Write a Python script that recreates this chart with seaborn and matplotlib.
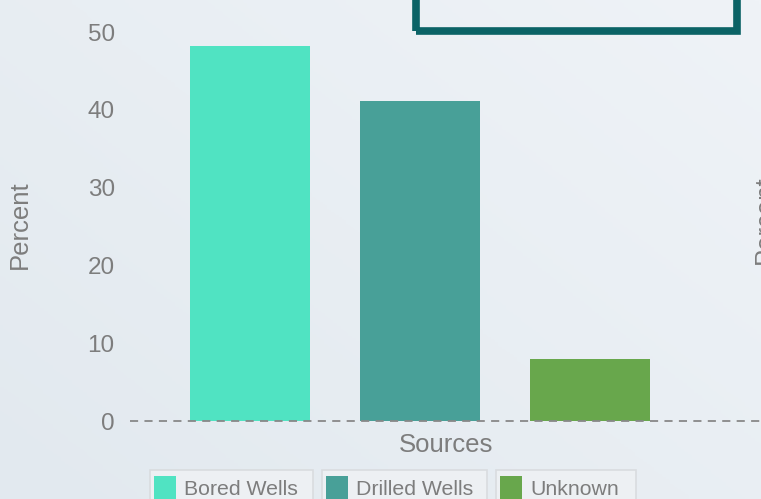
import numpy as np
import pandas as pd
import matplotlib
matplotlib.use('Agg')
import matplotlib.pyplot as plt
import matplotlib.patches as mpatches
import seaborn as sns

sources = ['Bored Wells', 'Drilled Wells', 'Unknown']
percents = [48.2, 41.1, 8.0]
bar_colors = ['#50e3c2', '#48a098', '#68a74c']
y_ticks = [0, 10, 20, 30, 40, 50]

sns.set_style('white')
plt.rcParams['font.family'] = ['Liberation Sans', 'DejaVu Sans']
txt_col = '#7d7d7d'

df = pd.DataFrame({'Source': sources, 'Percent': percents})

W, H = 761, 499
fig = plt.figure(figsize=[W / 100, H / 100], dpi=100)

# soft background gradient
bg = fig.add_axes([0, 0, 1, 1], zorder=-10)
gx, gy = np.meshgrid(np.linspace(0, 1, 200), np.linspace(0, 1, 200))
grad = 0.55 * gx + 0.45 * (1 - gy)
cmap = matplotlib.colors.LinearSegmentedColormap.from_list('bg', ['#e2e9ef', '#eff3f7'])
bg.imshow(grad, cmap=cmap, aspect='auto', extent=[0, 1, 0, 1])
bg.axis('off')

x0 = 130 / W
ax = fig.add_axes([x0, (H - 421) / H, 1 - x0, (421 - 32) / H])
ax.patch.set_alpha(0)
sns.barplot(data=df, x='Source', y='Percent', hue='Source', palette=bar_colors,
            width=0.706, saturation=1, legend=False, ax=ax, zorder=2,
            linewidth=0, edgecolor='none')
ax.set_xlim(-0.706, 3.006)
ax.set_ylim(0, 50)
ax.set_yticks(y_ticks)
ax.set_yticklabels([str(t) for t in y_ticks], fontsize=17.5, color=txt_col)
ax.tick_params(axis='y', length=0, pad=11)
ax.set_xticks([])
ax.set_xlabel('')
ax.set_ylabel('')
for s in ax.spines.values():
    s.set_visible(False)
ax.axhline(0, color='#888888', lw=1.3, ls=(0, (4.5, 3.5)), zorder=3, clip_on=False)

fig.text(20 / W, 1 - 225 / H, 'Percent', rotation=90, ha='center', va='center',
         fontsize=18.5, color=txt_col)
fig.text(765 / W, 1 - 220 / H, 'Percent', rotation=90, ha='center', va='center',
         fontsize=18.5, color=txt_col)
fig.text(446 / W, 1 - 445 / H, 'Sources', ha='center', va='center',
         fontsize=18.5, color=txt_col)

# legend: one framed box per item
leg_boxes = [(150, 313), (322, 487), (496, 636)]
for name, col, (lx, rx) in zip(sources, bar_colors, leg_boxes):
    frame = mpatches.Rectangle((lx / W, -3 / H), (rx - lx) / W, 32 / H, transform=fig.transFigure,
                               facecolor='#edf0f3', edgecolor='#d9dcdf', lw=1.2, zorder=1)
    fig.patches.append(frame)
    h = mpatches.Patch(facecolor=col, edgecolor='none')
    leg = fig.legend(handles=[h], labels=[name], loc='lower left',
                     bbox_to_anchor=(lx / W, -4 / H), frameon=False, fontsize=15.3,
                     handlelength=1.0, handleheight=1.25, handletextpad=0.4,
                     borderpad=0.2, borderaxespad=0)
    leg.set_zorder(5)
    for t in leg.get_texts():
        t.set_color(txt_col)

# dark teal box at top (partly outside the figure)
box = mpatches.Rectangle((416 / W, 1 - 30.5 / H), 320.5 / W, 60 / H, transform=fig.transFigure,
                         facecolor='none', edgecolor='#0b6366', lw=5.5, clip_on=False)
fig.patches.append(box)

fig.savefig('out.png', dpi=100)
